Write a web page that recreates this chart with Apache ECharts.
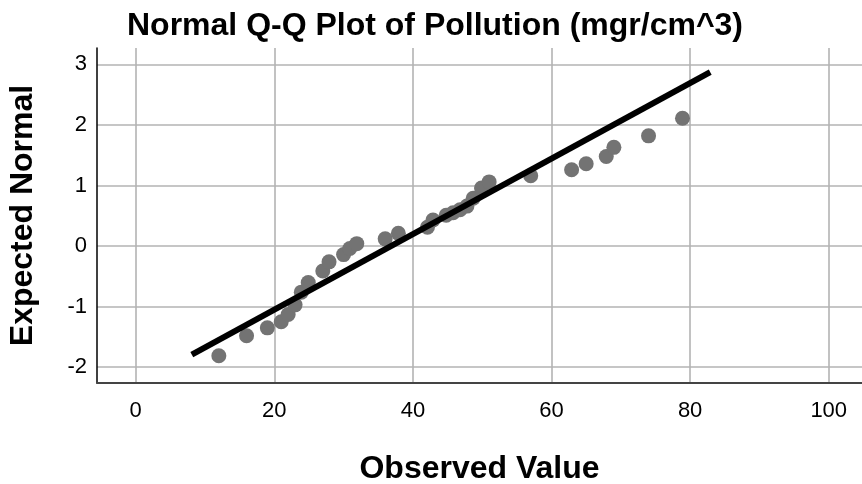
<!DOCTYPE html>
<html>
<head>
<meta charset="utf-8">
<script src="https://cdn.jsdelivr.net/npm/echarts@6/dist/echarts.min.js"></script>
<style>html,body{margin:0;padding:0;background:#fff}#chart{width:862px;height:484px}</style>
</head>
<body>
<div id="chart"></div>
<script>
var titleText = 'Normal Q-Q Plot of Pollution (mgr/cm^3)';
var xName = 'Observed Value';
var yName = 'Expected Normal';
var xTicks = [0, 20, 40, 60, 80, 100];
var yTicks = [-2, -1, 0, 1, 2, 3];
var observed = [12.0, 16.0, 19.0, 21.0, 22.0, 23.0, 23.9, 24.9, 27.0, 27.9, 30.0, 30.9, 31.9, 36.0, 37.9, 42.1, 42.9, 44.8, 45.8, 46.8, 47.8, 48.7, 49.9, 51.0, 57.0, 62.9, 65.0, 67.9, 69.0, 74.0, 78.9];
var expectedNormal = [-1.81, -1.48, -1.35, -1.25, -1.13, -0.97, -0.76, -0.60, -0.41, -0.26, -0.14, -0.04, 0.04, 0.12, 0.21, 0.31, 0.43, 0.51, 0.55, 0.60, 0.66, 0.79, 0.96, 1.06, 1.16, 1.26, 1.36, 1.48, 1.63, 1.82, 2.11];
var refLineX = [8.1, 82.9];
var refLineY = [-1.79, 2.87];

var FONT = '"Liberation Sans", Arial, sans-serif';
var chart = echarts.init(document.getElementById('chart'), null, {renderer: 'canvas'});
var pts = observed.map(function (x, i) { return [x, expectedNormal[i]]; });
var line = refLineX.map(function (x, i) { return [x, refLineY[i]]; });
chart.setOption({
  animation: false,
  backgroundColor: '#ffffff',
  title: {
    text: titleText, left: 430, top: 5, textAlign: 'center',
    textStyle: {fontFamily: FONT, fontWeight: 'bold', fontSize: 32, color: '#000'}
  },
  grid: {left: 97, right: 0, top: 48, bottom: 101, containLabel: false, outerBoundsMode: 'none'},
  xAxis: {
    type: 'value', min: -5.58, max: 104.8,
    name: xName, nameLocation: 'middle', nameGap: 70,
    nameTextStyle: {fontFamily: FONT, fontWeight: 'bold', fontSize: 32, color: '#000'},
    axisLine: {onZero: false, lineStyle: {color: '#444', width: 2}},
    axisTick: {show: false, customValues: xTicks},
    axisLabel: {customValues: xTicks, margin: 17, fontFamily: FONT, fontSize: 22, color: '#000'},
    splitLine: {show: true, lineStyle: {color: '#b3b3b3', width: 1.6}}
  },
  yAxis: {
    type: 'value', min: -2.26, max: 3.27,
    name: yName, nameLocation: 'middle', nameGap: 58,
    nameTextStyle: {fontFamily: FONT, fontWeight: 'bold', fontSize: 32, color: '#000'},
    axisLine: {show: true, onZero: false, lineStyle: {color: '#000', width: 1.5}},
    axisTick: {show: false, customValues: yTicks},
    axisLabel: {customValues: yTicks, margin: 10, fontFamily: FONT, fontSize: 22, color: '#000'},
    splitLine: {show: true, lineStyle: {color: '#b3b3b3', width: 1.6}}
  },
  series: [
    {
      type: 'scatter', data: pts, symbol: 'circle', symbolSize: 15,
      itemStyle: {color: '#737373', opacity: 1}, z: 2
    },
    {
      type: 'line', data: line, symbol: 'none', z: 3,
      lineStyle: {color: '#000', width: 6}
    }
  ]
});
</script>
</body>
</html>
